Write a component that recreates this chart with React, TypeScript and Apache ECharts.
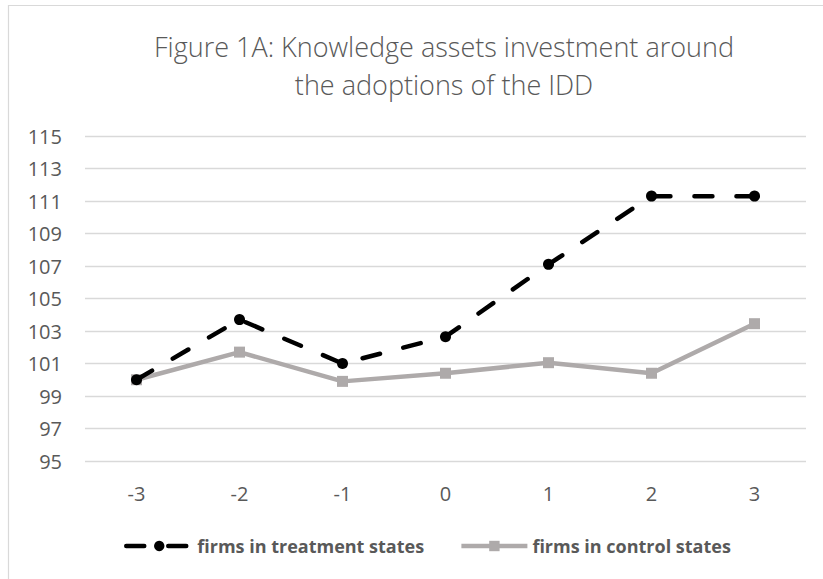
import React, { useEffect, useRef } from "react";
import * as echarts from "echarts";

const categories = ["-3", "-2", "-1", "0", "1", "2", "3"];
const treatment = [100.0, 103.7, 101.0, 102.65, 107.1, 111.3, 111.3];
const control = [100.0, 101.7, 99.9, 100.4, 101.05, 100.4, 103.45];
const yMin = 95;
const yMax = 115;
const yStep = 2;
const titleText = "Figure 1A: Knowledge assets investment around\nthe adoptions of the IDD";
const seriesNames = ["firms in treatment states", "firms in control states"];

export default function App() {
  const ref = useRef<HTMLDivElement>(null);
  useEffect(() => {
    if (!ref.current) return;
    const chart = echarts.init(ref.current, undefined, { renderer: "svg" });
    const font = "'Open Sans', 'Noto Sans', sans-serif";
    chart.setOption({
      animation: false,
      backgroundColor: "#ffffff",
      title: {
        text: titleText,
        left: 439,
        top: 22,
        textAlign: "center",
        textStyle: {
          fontFamily: font,
          fontSize: 27,
          fontWeight: 300,
          color: "#595959",
          lineHeight: 38,
        },
      },
      graphic: [
        {
          type: "rect",
          shape: { x: 8.5, y: 5.5, width: 900, height: 700 },
          style: { fill: "none", stroke: "#D9D9D9", lineWidth: 1.2 },
          silent: true,
        },
      ],
      grid: { left: 85, right: 17, top: 136, bottom: 118 },
      legend: {
        left: 119,
        top: 532,
        itemWidth: 66,
        itemHeight: 13,
        itemGap: 35,
        lineStyle: { width: 4.5 },
        textStyle: {
          fontFamily: font,
          fontSize: 18,
          fontWeight: "bold",
          color: "#595959",
        },
        data: seriesNames,
      },
      xAxis: {
        type: "category",
        data: categories,
        boundaryGap: true,
        axisLine: { show: false },
        axisTick: { show: false },
        axisLabel: {
          margin: 22,
          fontFamily: font,
          fontSize: 20,
          color: "#595959",
        },
      },
      yAxis: {
        type: "value",
        min: yMin,
        max: yMax,
        interval: yStep,
        axisLine: { show: false },
        axisTick: { show: false },
        axisLabel: {
          margin: 23,
          fontFamily: font,
          fontSize: 20,
          color: "#595959",
        },
        splitLine: { lineStyle: { color: "#D9D9D9", width: 1.3 } },
      },
      series: [
        {
          name: seriesNames[0],
          type: "line",
          data: treatment,
          symbol: "circle",
          symbolSize: 11,
          z: 3,
          itemStyle: { color: "#000000" },
          lineStyle: {
            color: "#000000",
            width: 4.5,
            type: [18, 24],
            cap: "round",
          },
        },
        {
          name: seriesNames[1],
          type: "line",
          data: control,
          symbol: "rect",
          symbolSize: 11,
          z: 2,
          itemStyle: { color: "#AEAAAA" },
          lineStyle: { color: "#AEAAAA", width: 4.5 },
        },
      ],
    });
    return () => chart.dispose();
  }, []);
  return (
    <div
      ref={ref}
      style={{ position: "absolute", left: 0, top: 0, width: 823, height: 579 }}
    />
  );
}
